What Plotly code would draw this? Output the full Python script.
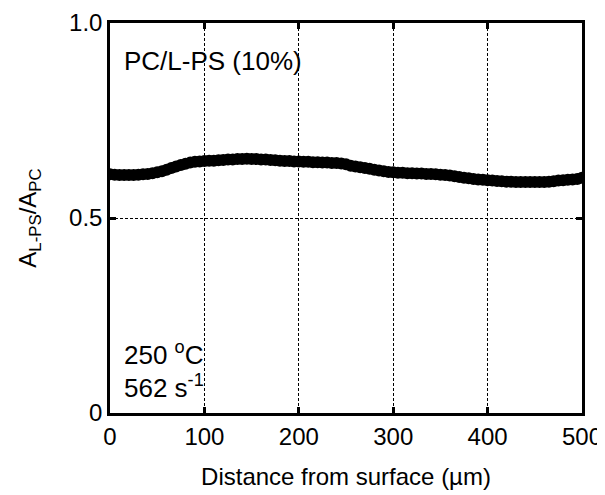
import plotly.graph_objects as go

# distance from surface (um) and area ratio
distance = list(range(0, 505, 5))
ratio = [
    0.612, 0.611, 0.610, 0.610, 0.610, 0.610, 0.611, 0.612, 0.613, 0.615,
    0.617, 0.620, 0.624, 0.628, 0.632, 0.636, 0.639, 0.642, 0.644, 0.645,
    0.646, 0.647, 0.647, 0.648, 0.649, 0.650, 0.650, 0.651, 0.651, 0.652,
    0.651, 0.651, 0.650, 0.650, 0.649, 0.648, 0.647, 0.646, 0.646, 0.645,
    0.645, 0.644, 0.644, 0.643, 0.643, 0.642, 0.642, 0.641, 0.641, 0.640,
    0.638, 0.634, 0.632, 0.630, 0.628, 0.626, 0.624, 0.622, 0.620, 0.618,
    0.617, 0.616, 0.616, 0.615, 0.615, 0.614, 0.614, 0.613, 0.613, 0.612,
    0.611, 0.610, 0.609, 0.607, 0.605, 0.603, 0.602, 0.600, 0.599, 0.598,
    0.597, 0.596, 0.595, 0.594, 0.593, 0.593, 0.592, 0.592, 0.592, 0.592,
    0.592, 0.592, 0.592, 0.593, 0.594, 0.596, 0.597, 0.598, 0.599, 0.600,
    0.603,
]

x_ticks = [0, 100, 200, 300, 400, 500]
y_ticks = [0, 0.5, 1.0]
y_ticktext = ["0", "0.5", "1.0"]

FONT = "Arial, Liberation Sans, sans-serif"

fig = go.Figure()
fig.add_trace(go.Scatter(
    x=distance, y=ratio, mode="markers",
    marker=dict(size=12, color="black", line=dict(width=0)),
    showlegend=False,
))

axis_common = dict(
    showline=True, linecolor="black", linewidth=2.5, mirror="ticks",
    ticks="inside", ticklen=6, tickwidth=2.5, tickcolor="black",
    showgrid=True, gridcolor="black", gridwidth=1, griddash="3px,2px",
    zeroline=False, automargin=False, ticklabeloverflow="allow",
    tickfont=dict(size=24, color="black", family=FONT),
)

fig.update_xaxes(
    range=[0, 500], tickvals=x_ticks,
    title=dict(text="Distance from surface (µm)", font=dict(size=24, color="black", family=FONT), standoff=20),
    **axis_common,
)
fig.update_yaxes(
    range=[0, 1.0], tickvals=y_ticks, ticktext=y_ticktext,
    title=dict(text="A<sub>L-PS</sub>/A<sub>PC</sub>", font=dict(size=24, color="black", family=FONT), standoff=26),
    **axis_common,
)

annots = [
    dict(text="PC/L-PS (10%)", x=0.025, y=0.903),
    dict(text="250 <sup>o</sup>C", x=0.025, y=0.152),
    dict(text="562 s<sup>-1</sup>", x=0.025, y=0.068),
]
for a in annots:
    fig.add_annotation(
        text=a["text"], x=a["x"], y=a["y"], xref="paper", yref="paper",
        xanchor="left", yanchor="middle", showarrow=False,
        font=dict(size=26, color="black", family=FONT),
    )

# the page body adds a small margin, so the figure is kept a bit smaller
fig.update_layout(
    width=597, height=487,
    margin=dict(l=102, r=23, t=15, b=82),
    plot_bgcolor="white", paper_bgcolor="white",
    font=dict(family=FONT, color="black"),
)

fig.write_html("out.html")
